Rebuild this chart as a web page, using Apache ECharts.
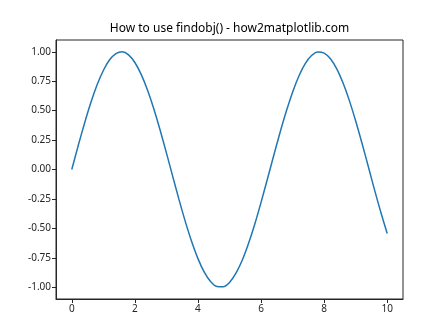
<!DOCTYPE html>
<html>
<head>
<meta charset="utf-8">
<script src="https://cdn.jsdelivr.net/npm/echarts@6/dist/echarts.min.js"></script>
<style>html,body{margin:0;padding:0;background:#fff}#c{width:448px;height:336px}</style>
</head>
<body>
<div id="c"></div>
<script>
var titleText = 'How to use findobj() - how2matplotlib.com';
var xValues = [0,0.2,0.4,0.6,0.8,1,1.2,1.4,1.6,1.8,2,2.2,2.4,2.6,2.8,3,3.2,3.4,3.6,3.8,4,4.2,4.4,4.6,4.8,5,5.2,5.4,5.6,5.8,6,6.2,6.4,6.6,6.8,7,7.2,7.4,7.6,7.8,8,8.2,8.4,8.6,8.8,9,9.2,9.4,9.6,9.8,10];
var yValues = [0.000,0.199,0.389,0.565,0.717,0.841,0.932,0.985,1.000,0.974,0.909,0.808,0.675,0.516,0.335,0.141,-0.058,-0.256,-0.443,-0.612,-0.757,-0.872,-0.952,-0.994,-0.996,-0.959,-0.883,-0.773,-0.631,-0.465,-0.279,-0.083,0.117,0.312,0.494,0.657,0.794,0.899,0.968,0.999,0.989,0.941,0.855,0.734,0.585,0.412,0.223,0.025,-0.175,-0.366,-0.544];
var xTicks = [0,2,4,6,8,10];
var yTicks = [-1,-0.75,-0.5,-0.25,0,0.25,0.5,0.75,1];

var data = xValues.map(function(x,i){return [x,yValues[i]];});
var font = 'Noto Sans';
var chart = echarts.init(document.getElementById('c'), null, {renderer:'canvas'});
chart.setOption({
  animation:false,
  backgroundColor:'#fff',
  graphic:[{type:'text', x:229.5, y:29, style:{text:titleText, fontFamily:font, fontSize:12, fill:'#000', textAlign:'center', textVerticalAlign:'middle'}}],
  grid:{left:56, top:40, right:45, bottom:37, show:true, borderColor:'#262626', borderWidth:1, backgroundColor:'transparent'},
  xAxis:{type:'value', min:-0.5, max:10.5,
    axisLine:{show:true, onZero:false, lineStyle:{color:'#262626', width:1}},
    axisTick:{show:true, length:4, customValues:xTicks, lineStyle:{color:'#262626'}},
    axisLabel:{customValues:xTicks, color:'#262626', fontFamily:font, fontSize:10, margin:5},
    splitLine:{show:false}},
  yAxis:{type:'value', min:-1.1, max:1.1,
    axisLine:{show:true, onZero:false, lineStyle:{color:'#262626', width:1}},
    axisTick:{show:true, length:4, customValues:yTicks, lineStyle:{color:'#262626'}},
    axisLabel:{customValues:yTicks, color:'#262626', fontFamily:font, fontSize:10, margin:5, formatter:function(v){return v.toFixed(2);}},
    splitLine:{show:false}},
  series:[{type:'line', data:data, smooth:0.3, showSymbol:false, lineStyle:{color:'#1f77b4', width:1.5}, itemStyle:{color:'#1f77b4'}}]
});
</script>
</body>
</html>
